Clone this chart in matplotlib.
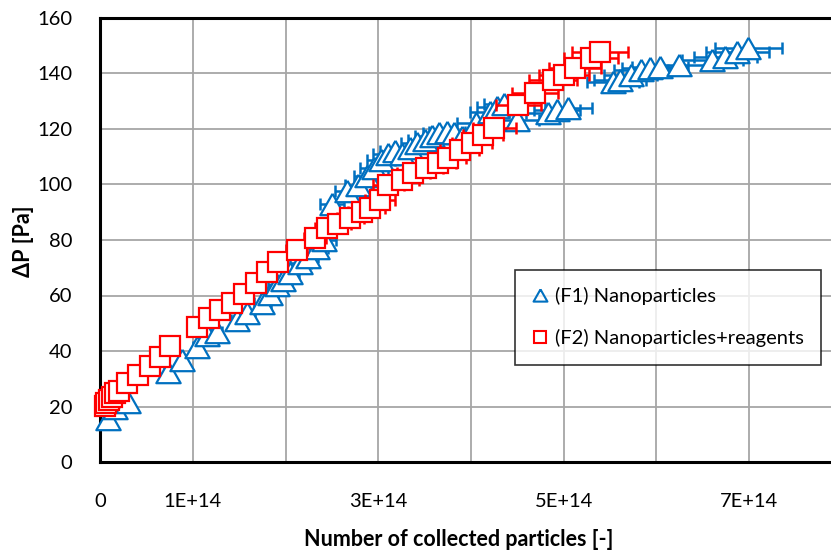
import matplotlib
matplotlib.use("Agg")
import matplotlib.pyplot as plt
from matplotlib.lines import Line2D
import numpy as np

# ---------------- data (x in units of 1E+14 particles, y in Pa) ----------------
f1_x = [0.09, 0.16, 0.30, 0.73, 0.88, 1.05, 1.15, 1.26, 1.48, 1.59, 1.75, 1.83, 1.91, 1.97,
        2.05, 2.16, 2.24, 2.34, 2.42, 2.50, 2.66, 2.78, 2.88, 2.95, 3.03, 3.10, 3.18, 3.26,
        3.34, 3.42, 3.50, 3.58, 3.66, 3.74, 3.82, 3.90, 4.05, 4.20, 4.28, 4.36, 4.50, 4.83,
        4.93, 5.05, 5.53, 5.61, 5.72, 5.83, 5.93, 6.04, 6.24, 6.60, 6.74, 6.87, 6.99]
f1_y = [15.5, 19.5, 21.6, 32.4, 36.8, 41.5, 45.8, 46.9, 51.2, 53.7, 57.3, 60.5, 63.8, 65.5,
        68.1, 71.7, 73.9, 77.1, 80.0, 93.0, 97.5, 99.8, 103.0, 106.0, 109.0, 111.0, 112.0, 111.0,
        113.0, 115.0, 116.0, 117.5, 118.6, 119.0, 118.6, 117.0, 122.0, 126.0, 128.0, 129.0, 123.3, 125.7,
        127.0, 127.6, 137.0, 137.7, 139.5, 141.3, 142.0, 142.4, 143.0, 145.0, 146.0, 147.8, 149.2]
f1_xerr = [0.005, 0.01, 0.015, 0.04, 0.04, 0.05, 0.06, 0.06, 0.07, 0.08, 0.09, 0.09, 0.10, 0.10,
           0.10, 0.11, 0.11, 0.12, 0.12, 0.13, 0.13, 0.14, 0.14, 0.15, 0.15, 0.16, 0.16, 0.16,
           0.17, 0.17, 0.18, 0.18, 0.18, 0.19, 0.19, 0.20, 0.20, 0.21, 0.21, 0.22, 0.23, 0.24,
           0.25, 0.25, 0.28, 0.28, 0.29, 0.29, 0.30, 0.30, 0.31, 0.33, 0.34, 0.34, 0.36]

f2_x = [0.05, 0.07, 0.10, 0.13, 0.16, 0.20, 0.29, 0.41, 0.54, 0.65, 0.76, 1.05, 1.17, 1.29,
        1.42, 1.55, 1.68, 1.80, 1.92, 2.12, 2.32, 2.45, 2.57, 2.70, 2.82, 2.91, 3.02, 3.11,
        3.26, 3.38, 3.51, 3.64, 3.75, 3.88, 4.01, 4.13, 4.25, 4.51, 4.69, 4.88, 5.00, 5.12,
        5.29, 5.39]
f2_y = [20.2, 21.3, 22.3, 23.4, 24.8, 25.6, 28.5, 31.4, 34.6, 37.8, 41.8, 48.6, 51.9, 54.8,
        57.3, 60.5, 64.5, 68.5, 72.0, 76.5, 80.7, 84.3, 85.8, 87.9, 90.1, 91.5, 94.4, 99.8,
        101.6, 104.2, 106.0, 107.8, 109.6, 112.4, 115.0, 117.9, 120.4, 128.7, 133.0, 137.7, 139.5, 142.0,
        145.6, 147.8]
f2_xerr = [0.003, 0.004, 0.005, 0.007, 0.009, 0.011, 0.016, 0.02, 0.03, 0.04, 0.04, 0.06, 0.06, 0.07,
           0.08, 0.08, 0.09, 0.10, 0.10, 0.11, 0.12, 0.13, 0.14, 0.15, 0.15, 0.16, 0.16, 0.17,
           0.18, 0.18, 0.19, 0.20, 0.20, 0.21, 0.22, 0.22, 0.23, 0.24, 0.25, 0.26, 0.27, 0.28,
           0.29, 0.30]

labels = ["(F1) Nanoparticles", "(F2) Nanoparticles+reagents"]
x_ticks = [0, 1, 2, 3, 4, 5, 6, 7, 8]
x_ticklabels = ["0", "1E+14", "", "3E+14", "", "5E+14", "", "7E+14", ""]
y_ticks = [0, 20, 40, 60, 80, 100, 120, 140, 160]

SCALE = 1e14
BLUE = "#0070C0"
RED = "#FF0000"
FONT = ["Lato", "DejaVu Sans"]

plt.rcParams["font.family"] = FONT

fig = plt.figure(figsize=(8.31, 5.53), dpi=100)
ax = fig.add_axes([100 / 831, 91 / 553, 742 / 831, 444 / 553])

tri = [(0, 0.88), (-1, -0.88), (1, -0.88), (0, 0.88)]

ax.errorbar(np.array(f1_x) * SCALE, f1_y, xerr=np.array(f1_xerr) * SCALE,
            fmt="none", ecolor=BLUE, elinewidth=1.8, capsize=4, capthick=1.8, zorder=3)
ax.plot(np.array(f1_x) * SCALE, f1_y, linestyle="none", marker=tri, ms=17.5,
        mfc="white", mec=BLUE, mew=1.6, zorder=4, clip_on=False)
ax.errorbar(np.array(f2_x) * SCALE, f2_y, xerr=np.array(f2_xerr) * SCALE,
            fmt="none", ecolor=RED, elinewidth=1.8, capsize=4, capthick=1.8, zorder=5)
ax.plot(np.array(f2_x) * SCALE, f2_y, linestyle="none", marker="s", ms=14.5,
        mfc="white", mec=RED, mew=1.6, zorder=6, clip_on=False)

ax.set_xlim(0, 8 * SCALE)
ax.set_ylim(0, 160)
ax.set_xticks(np.array(x_ticks) * SCALE)
ax.set_xticklabels(x_ticklabels)
ax.set_yticks(y_ticks)
ax.tick_params(length=0, labelsize=14.5, colors="black")
ax.tick_params(axis="x", pad=22)
ax.tick_params(axis="y", pad=20)
ax.grid(True, color="#A6A6A6", linewidth=1.3, zorder=0)
ax.set_axisbelow(True)
for s in ["left", "bottom", "top", "right"]:
    ax.spines[s].set_color("black")
    ax.spines[s].set_linewidth(2.2)
    ax.spines[s].set_zorder(2)

fig.text(459 / 831, 1 - 540 / 553, "Number of collected particles [-]", ha="center", va="center",
         fontsize=15.5, fontweight="bold")
fig.text(24 / 831, 1 - 241 / 553, "ΔP [Pa]", ha="center", va="center", rotation=90,
         fontsize=15.5, fontweight="bold")

handles = [
    Line2D([], [], linestyle="none", marker=tri, ms=10, mfc="none", mec=BLUE, mew=1.5),
    Line2D([], [], linestyle="none", marker="s", ms=9, mfc="none", mec=RED, mew=1.5),
]
leg = fig.legend(handles, labels, loc="upper left", bbox_to_anchor=(515 / 831, 1 - 270 / 553),
                 fontsize=14.5, frameon=True, fancybox=False, edgecolor="black",
                 handlelength=0.8, handletextpad=0.35, labelspacing=1.2, borderpad=0.85,
                 borderaxespad=0)
leg.get_frame().set_linewidth(1.2)

fig.savefig("out.png", dpi=100)
